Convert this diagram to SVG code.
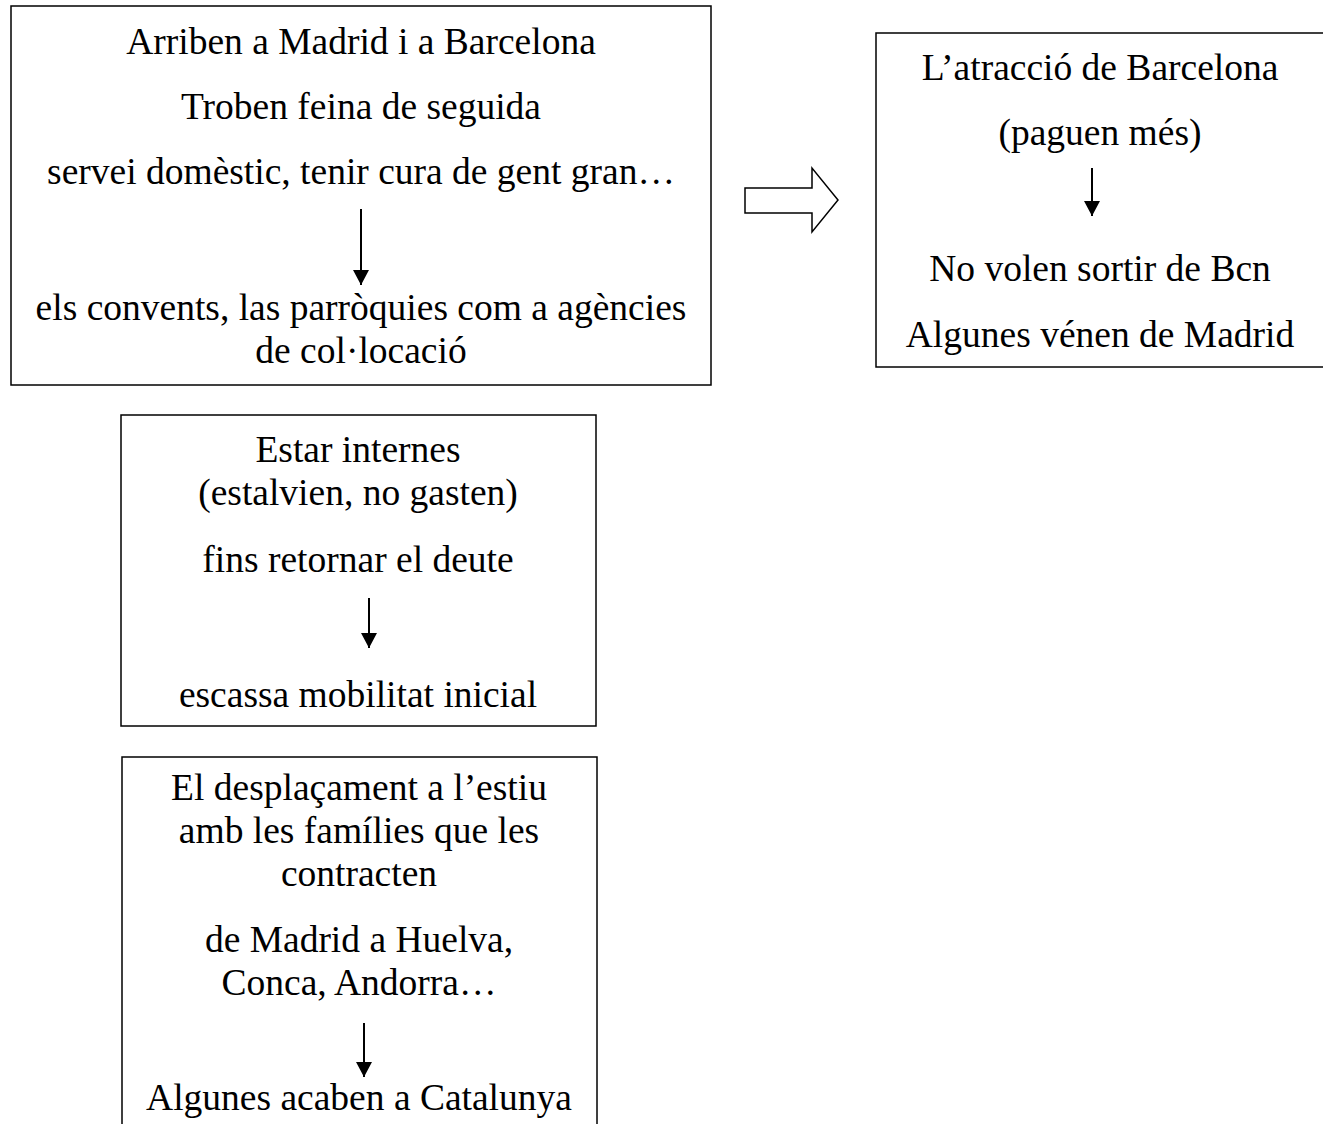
<svg xmlns="http://www.w3.org/2000/svg" width="1323" height="1124" viewBox="0 0 1323 1124">
  <style>
    .box { fill: #fff; stroke: #000; stroke-width: 1.5; }
    .t { font-family: "Liberation Serif", "Times New Roman", serif; font-size: 37.5px; fill: #000; text-anchor: middle; }
    .arr { stroke: #000; stroke-width: 2; fill: none; }
  </style>
  <defs>
    <marker id="head" viewBox="0 0 15 16" refX="15" refY="8" markerWidth="15" markerHeight="16" markerUnits="userSpaceOnUse" orient="auto">
      <path d="M0,0 L15,8 L0,16 Z" fill="#000"/>
    </marker>
  </defs>
  <rect width="1323" height="1124" fill="#fff"/>

  <g id="node-arriben">
    <rect class="box" x="11" y="6" width="700" height="379"/>
    <text class="t" x="361" y="54">Arriben a Madrid i a Barcelona</text>
    <text class="t" x="361" y="119">Troben feina de seguida</text>
    <text class="t" x="361" y="184">servei domèstic, tenir cura de gent gran…</text>
    <text class="t" x="361" y="320">els convents, las parròquies com a agències</text>
    <text class="t" x="361" y="363">de col·locació</text>
  </g>

  <g id="node-atraccio">
    <rect class="box" x="876" y="33" width="460" height="334"/>
    <text class="t" x="1100" y="80">L’atracció de Barcelona</text>
    <text class="t" x="1100" y="145">(paguen més)</text>
    <text class="t" x="1100" y="281">No volen sortir de Bcn</text>
    <text class="t" x="1100" y="347">Algunes vénen de Madrid</text>
  </g>

  <g id="node-internes">
    <rect class="box" x="121" y="415" width="475" height="311"/>
    <text class="t" x="358" y="462">Estar internes</text>
    <text class="t" x="358" y="505">(estalvien, no gasten)</text>
    <text class="t" x="358" y="572">fins retornar el deute</text>
    <text class="t" x="358" y="707">escassa mobilitat inicial</text>
  </g>

  <g id="node-desplacament">
    <rect class="box" x="122" y="757" width="475" height="380"/>
    <text class="t" x="359" y="800">El desplaçament a l’estiu</text>
    <text class="t" x="359" y="843">amb les famílies que les</text>
    <text class="t" x="359" y="886">contracten</text>
    <text class="t" x="359" y="952">de Madrid a Huelva,</text>
    <text class="t" x="359" y="995">Conca, Andorra…</text>
    <text class="t" x="359" y="1110">Algunes acaben a Catalunya</text>
  </g>

  <g id="connectors">
    <line class="arr" x1="361" y1="209" x2="361" y2="285" marker-end="url(#head)"/>
    <line class="arr" x1="1092" y1="168" x2="1092" y2="216" marker-end="url(#head)"/>
    <line class="arr" x1="369" y1="598" x2="369" y2="648" marker-end="url(#head)"/>
    <line class="arr" x1="364" y1="1023" x2="364" y2="1077" marker-end="url(#head)"/>
    <path class="box" d="M745,188 L812,188 L812,168 L838,200 L812,232 L812,213 L745,213 Z"/>
  </g>
</svg>
